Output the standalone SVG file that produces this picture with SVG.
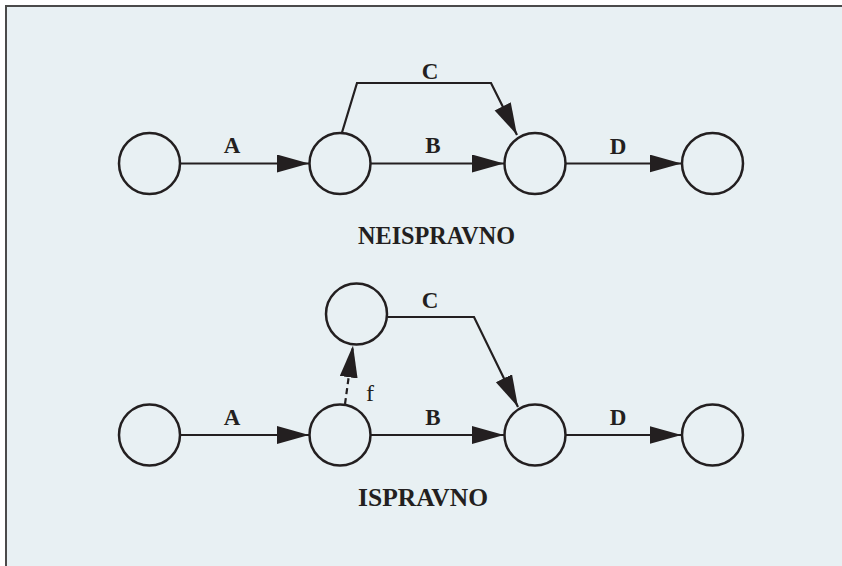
<svg xmlns="http://www.w3.org/2000/svg" width="842" height="566" viewBox="0 0 842 566">
<style>
.bg{fill:#e8f0f3}
.frame{fill:none;stroke:#4a4a4a;stroke-width:2}
.node{fill:none;stroke:#231f20;stroke-width:2.5}
.edge{fill:none;stroke:#231f20;stroke-width:2.2}
.dash{stroke-dasharray:6,4}
.lbl{font-family:"Liberation Serif",serif;font-weight:bold;font-size:23px;fill:#231f20;text-anchor:middle}
.f{font-family:"Liberation Serif",serif;font-size:24px;fill:#231f20}
.title{font-family:"Liberation Serif",serif;font-weight:bold;font-size:26px;fill:#231f20;text-anchor:middle}
</style>
<defs>
<marker id="arr" markerUnits="userSpaceOnUse" markerWidth="34" markerHeight="20" refX="32" refY="9" orient="auto" viewBox="0 0 34 20">
<path d="M0,0 L32,9 L0,18 z" fill="#231f20"/>
</marker>
</defs>
<rect class="bg" x="6" y="6" width="836" height="560"/>
<path class="frame" d="M6,566 L6,6 L842,6"/>
<g id="connectors">
<path class="edge" d="M180.5,163.5 L309,163.5" marker-end="url(#arr)"/>
<path class="edge" d="M371,163.5 L504,163.5" marker-end="url(#arr)"/>
<path class="edge" d="M566,163.5 L681.5,163.5" marker-end="url(#arr)"/>
<path class="edge" d="M342,132.5 L357,83 L491,83 L517,135" marker-end="url(#arr)"/>
<path class="edge" d="M180.5,435 L309,435" marker-end="url(#arr)"/>
<path class="edge" d="M371,435 L504,435" marker-end="url(#arr)"/>
<path class="edge" d="M566,435 L681.5,435" marker-end="url(#arr)"/>
<path class="edge" d="M387.5,317 L474,317 L518,407" marker-end="url(#arr)"/>
<path class="edge dash" d="M345,404 L353,345.5" marker-end="url(#arr)"/>
<text class="lbl" x="232" y="153">A</text>
<text class="lbl" x="433" y="153">B</text>
<text class="lbl" x="430" y="79">C</text>
<text class="lbl" x="618" y="154">D</text>
<text class="lbl" x="232" y="424.5">A</text>
<text class="lbl" x="433" y="424.5">B</text>
<text class="lbl" x="430" y="308">C</text>
<text class="lbl" x="618" y="425">D</text>
<text class="f" x="366" y="401">f</text>
</g>
<g id="n1"><circle class="node" cx="149.5" cy="163.5" r="30.5"/></g>
<g id="n2"><circle class="node" cx="340" cy="163.5" r="30.5"/></g>
<g id="n3"><circle class="node" cx="535" cy="163.5" r="30.5"/></g>
<g id="n4"><circle class="node" cx="712.5" cy="163.5" r="30.5"/></g>
<g id="m1"><circle class="node" cx="149.5" cy="435" r="30.5"/></g>
<g id="m2"><circle class="node" cx="340" cy="435" r="30.5"/></g>
<g id="m3"><circle class="node" cx="535" cy="435" r="30.5"/></g>
<g id="m4"><circle class="node" cx="712.5" cy="435" r="30.5"/></g>
<g id="m5"><circle class="node" cx="356.5" cy="314" r="30.5"/></g>
<g id="t1"><text class="title" x="436.5" y="244" textLength="157" lengthAdjust="spacingAndGlyphs">NEISPRAVNO</text></g>
<g id="t2"><text class="title" x="423" y="506" textLength="130" lengthAdjust="spacingAndGlyphs">ISPRAVNO</text></g>
</svg>
